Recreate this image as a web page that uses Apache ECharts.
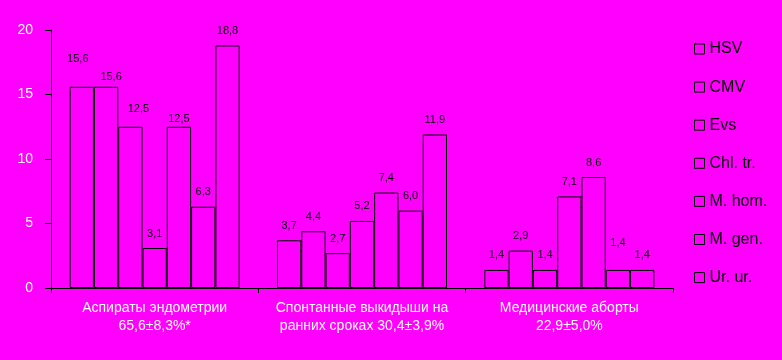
<!DOCTYPE html>
<html><head><meta charset="utf-8">
<script src="https://cdn.jsdelivr.net/npm/echarts@6/dist/echarts.min.js"></script>
<style>html,body{margin:0;padding:0;background:#ff00ff;}#c{width:782px;height:360px;}</style>
</head><body><div id="c"></div>
<script>
var categories = ["Аспираты эндометрии\n65,6±8,3%*", "Спонтанные выкидыши на\nранних сроках 30,4±3,9%", "Медицинские аборты\n22,9±5,0%"];
var seriesNames = ["HSV", "CMV", "Evs", "Chl. tr.", "M. hom.", "M. gen.", "Ur. ur."];
var hsv = [15.6, 3.7, 1.4];
var cmv = [15.6, 4.4, 2.9];
var evs = [12.5, 2.7, 1.4];
var chl = [3.1, 5.2, 7.1];
var mhom = [12.5, 7.4, 8.6];
var mgen = [6.3, 6.0, 1.4];
var urur = [18.8, 11.9, 1.4];
var yTicks = [0, 5, 10, 15, 20];

var allValues = [hsv, cmv, evs, chl, mhom, mgen, urur];
// label placement tweaks (series index - category index) as in the original
var labelShift = { '0-0': [-4, -13], '1-0': [5, 5], '2-0': [8, -3], '4-0': [0, 7], '5-2': [0, -12] };
var font = "Liberation Sans, Arial, sans-serif";
var chart = echarts.init(document.getElementById('c'));
var series = seriesNames.map(function (name, i) {
  return {
    name: name, type: 'bar',
    data: allValues[i].map(function (v, j) {
      var s = labelShift[i + '-' + j];
      return s ? { value: v, label: { offset: s } } : v;
    }),
    barGap: '0%', barCategoryGap: '18%',
    itemStyle: { color: '#ff00ff', borderColor: '#000', borderWidth: 1 },
    label: {
      show: true, position: 'top', distance: 9,
      fontFamily: font, fontSize: 11, color: '#000',
      textShadowColor: '#fff', textShadowOffsetX: -1, textShadowOffsetY: 0, textShadowBlur: 0,
      formatter: function (p) { return p.value.toFixed(1).replace('.', ','); }
    }
  };
});
chart.setOption({
  backgroundColor: '#ff00ff',
  animation: false,
  grid: { left: 51, right: 109, top: 30, bottom: 72 },
  legend: {
    orient: 'vertical', left: 689, top: 36, itemWidth: 10, itemHeight: 10, itemGap: 22.1, itemTextGap: 7,
    icon: 'rect',
    itemStyle: { color: '#ff00ff', borderColor: '#000', borderWidth: 1 },
    textStyle: { fontFamily: font, fontSize: 16, color: '#000', textShadowColor: '#fff', textShadowOffsetX: -1, textShadowOffsetY: 1, textShadowBlur: 0 },
    data: seriesNames
  },
  xAxis: {
    type: 'category', data: categories,
    axisLine: { lineStyle: { color: '#000', width: 1 } },
    axisTick: { show: true, length: 5, lineStyle: { color: '#000' } },
    axisLabel: { interval: 0, hideOverlap: false, fontFamily: font, fontSize: 14, color: '#fff', lineHeight: 18, margin: 11,
      textShadowColor: '#000', textShadowOffsetX: 1, textShadowOffsetY: 1, textShadowBlur: 0 }
  },
  yAxis: {
    type: 'value', min: yTicks[0], max: yTicks[yTicks.length - 1], interval: 5,
    splitLine: { show: false },
    axisLine: { show: true, lineStyle: { color: '#000', width: 1 } },
    axisTick: { show: true, length: 6, lineStyle: { color: '#000' } },
    axisLabel: { fontFamily: font, fontSize: 14, color: '#fff', margin: 18,
      textShadowColor: '#555', textShadowOffsetX: 1, textShadowOffsetY: 1, textShadowBlur: 0 }
  },
  series: series
});
</script></body></html>
